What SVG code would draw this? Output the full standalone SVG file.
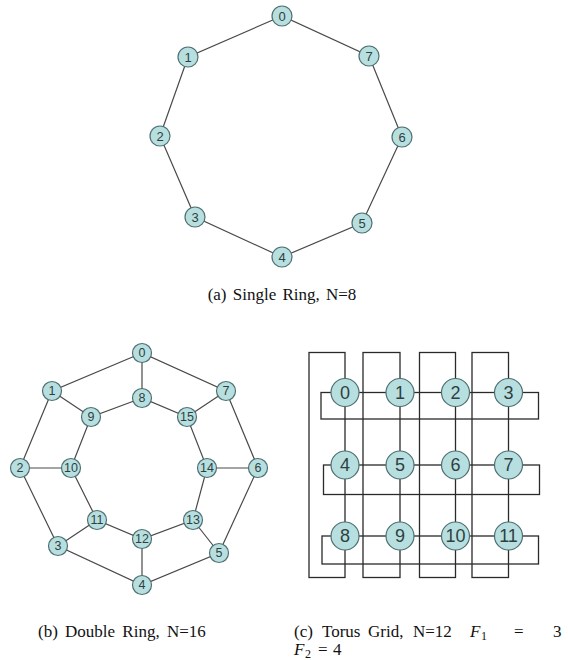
<svg xmlns="http://www.w3.org/2000/svg" width="568" height="660" viewBox="0 0 568 660">
<style>
.e{stroke:#4a4a4a;stroke-width:1.2;fill:none}
.t{stroke:#2a2a2a;stroke-width:1.3;fill:none}
.n circle{fill:#b8dfe0;stroke:#4f6f70;stroke-width:1.2}
.n text{font-family:"Liberation Sans",Arial,sans-serif;fill:#2f3f40;text-anchor:middle;dominant-baseline:central}
.s text{font-size:13px}
.d text{font-size:12.5px}
.g text{font-size:18px}
.cap{font-family:"Liberation Serif","Times New Roman",serif;font-size:17px;fill:#111}
.m{font-style:italic}
.sub{font-size:12px}
</style>
<rect width="568" height="660" fill="#fff"/>
<!-- (a) single ring -->
<g id="ring-edges">
<polygon class="e" points="282,16 188,57 160,136 195,217 282,257 362,223 402,137 369,56"/>
</g>
<g id="a0" class="n s"><circle cx="282" cy="16" r="10"/><text x="282" y="16">0</text></g>
<g id="a1" class="n s"><circle cx="188" cy="57" r="10"/><text x="188" y="57">1</text></g>
<g id="a2" class="n s"><circle cx="160" cy="136" r="10"/><text x="160" y="136">2</text></g>
<g id="a3" class="n s"><circle cx="195" cy="217" r="10"/><text x="195" y="217">3</text></g>
<g id="a4" class="n s"><circle cx="282" cy="257" r="10"/><text x="282" y="257">4</text></g>
<g id="a5" class="n s"><circle cx="362" cy="223" r="10"/><text x="362" y="223">5</text></g>
<g id="a6" class="n s"><circle cx="402" cy="137" r="10"/><text x="402" y="137">6</text></g>
<g id="a7" class="n s"><circle cx="369" cy="56" r="10"/><text x="369" y="56">7</text></g>
<text class="cap" x="282" y="300" text-anchor="middle" word-spacing="2">(a) Single Ring, N=8</text>
<!-- (b) double ring -->
<g id="double-edges">
<polygon class="e" points="142,353 52,391 20,468 58,546 142,585 219,553 258,468 226,391"/>
<polygon class="e" points="142,398 91,417 71,468 97,520 142,539 193,520 207,468 187,417"/>
<path class="e" d="M142,353L142,398M52,391L91,417M20,468L71,468M58,546L97,520M142,585L142,539M219,553L193,520M258,468L207,468M226,391L187,417"/>
</g>
<g id="b0" class="n d"><circle cx="142" cy="353" r="9.5"/><text x="142" y="353">0</text></g>
<g id="b1" class="n d"><circle cx="52" cy="391" r="9.5"/><text x="52" y="391">1</text></g>
<g id="b2" class="n d"><circle cx="20" cy="468" r="9.5"/><text x="20" y="468">2</text></g>
<g id="b3" class="n d"><circle cx="58" cy="546" r="9.5"/><text x="58" y="546">3</text></g>
<g id="b4" class="n d"><circle cx="142" cy="585" r="9.5"/><text x="142" y="585">4</text></g>
<g id="b5" class="n d"><circle cx="219" cy="553" r="9.5"/><text x="219" y="553">5</text></g>
<g id="b6" class="n d"><circle cx="258" cy="468" r="9.5"/><text x="258" y="468">6</text></g>
<g id="b7" class="n d"><circle cx="226" cy="391" r="9.5"/><text x="226" y="391">7</text></g>
<g id="b8" class="n d"><circle cx="142" cy="398" r="9.5"/><text x="142" y="398">8</text></g>
<g id="b9" class="n d"><circle cx="91" cy="417" r="9.5"/><text x="91" y="417">9</text></g>
<g id="b10" class="n d"><circle cx="71" cy="468" r="9.5"/><text x="71" y="468">10</text></g>
<g id="b11" class="n d"><circle cx="97" cy="520" r="9.5"/><text x="97" y="520">11</text></g>
<g id="b12" class="n d"><circle cx="142" cy="539" r="9.5"/><text x="142" y="539">12</text></g>
<g id="b13" class="n d"><circle cx="193" cy="520" r="9.5"/><text x="193" y="520">13</text></g>
<g id="b14" class="n d"><circle cx="207" cy="468" r="9.5"/><text x="207" y="468">14</text></g>
<g id="b15" class="n d"><circle cx="187" cy="417" r="9.5"/><text x="187" y="417">15</text></g>
<text class="cap" x="38" y="637" word-spacing="3">(b) Double Ring, N=16</text>
<!-- (c) torus grid -->
<g id="torus-edges">
<rect class="t" x="309" y="352.5" width="36" height="225"/>
<rect class="t" x="363" y="352.5" width="37" height="225"/>
<rect class="t" x="419.5" y="352.5" width="36" height="225"/>
<rect class="t" x="472" y="352.5" width="36.5" height="225"/>
<rect class="t" x="321" y="392.5" width="217.5" height="26.5"/>
<rect class="t" x="323.5" y="465" width="216" height="29.5"/>
<rect class="t" x="322" y="536" width="216.5" height="28"/>
</g>
<g id="c0" class="n g"><circle cx="345" cy="392.5" r="14"/><text x="345" y="392.5">0</text></g>
<g id="c1" class="n g"><circle cx="400" cy="392.5" r="14"/><text x="400" y="392.5">1</text></g>
<g id="c2" class="n g"><circle cx="455.5" cy="392.5" r="14"/><text x="455.5" y="392.5">2</text></g>
<g id="c3" class="n g"><circle cx="508.5" cy="392.5" r="14"/><text x="508.5" y="392.5">3</text></g>
<g id="c4" class="n g"><circle cx="345" cy="465" r="14"/><text x="345" y="465">4</text></g>
<g id="c5" class="n g"><circle cx="400" cy="465" r="14"/><text x="400" y="465">5</text></g>
<g id="c6" class="n g"><circle cx="455.5" cy="465" r="14"/><text x="455.5" y="465">6</text></g>
<g id="c7" class="n g"><circle cx="508.5" cy="465" r="14"/><text x="508.5" y="465">7</text></g>
<g id="c8" class="n g"><circle cx="345" cy="536" r="14"/><text x="345" y="536">8</text></g>
<g id="c9" class="n g"><circle cx="400" cy="536" r="14"/><text x="400" y="536">9</text></g>
<g id="c10" class="n g"><circle cx="455.5" cy="536" r="14"/><text x="455.5" y="536">10</text></g>
<g id="c11" class="n g"><circle cx="508.5" cy="536" r="14"/><text x="508.5" y="536">11</text></g>
<text class="cap" y="637"><tspan x="294">(c)</tspan><tspan x="322">Torus</tspan><tspan x="368">Grid,</tspan><tspan x="413">N=12</tspan><tspan x="470" class="m">F</tspan><tspan x="481" class="sub" dy="2.5">1</tspan><tspan x="514" dy="-2.5">=</tspan><tspan x="553">3</tspan></text>
<text class="cap" y="655"><tspan x="294" class="m">F</tspan><tspan x="305" class="sub" dy="2.5">2</tspan><tspan x="318" dy="-2.5">=</tspan><tspan x="333">4</tspan></text>
</svg>
